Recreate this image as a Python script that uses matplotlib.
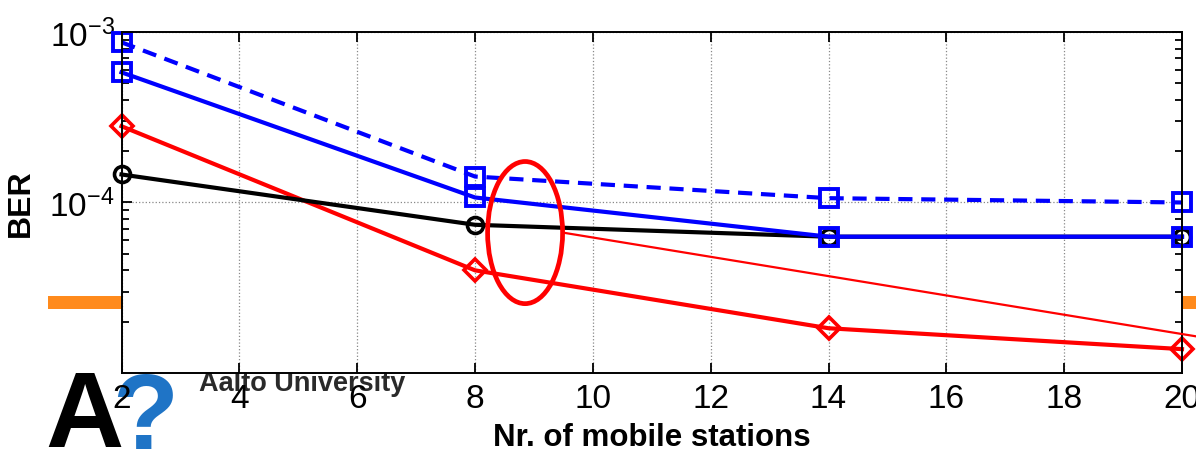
import numpy as np
import matplotlib
matplotlib.use("Agg")
import matplotlib.pyplot as plt
from matplotlib.patches import Ellipse, Rectangle
from matplotlib.ticker import LogLocator, FixedLocator, NullFormatter

plt.rcParams['font.family'] = ['Liberation Sans', 'DejaVu Sans']
plt.rcParams['mathtext.fontset'] = 'custom'
plt.rcParams['mathtext.rm'] = 'Liberation Sans'
plt.rcParams['mathtext.it'] = 'Liberation Sans'

# number of mobile stations
stations = [2, 8, 14, 20]
# BER curves
ber_blue_dashed = [8.7e-4, 1.42e-4, 1.06e-4, 1.0e-4]
ber_blue = [5.8e-4, 1.07e-4, 6.3e-5, 6.3e-5]
ber_black = [1.46e-4, 7.4e-5, 6.3e-5, 6.3e-5]
ber_red = [2.8e-4, 4.0e-5, 1.83e-5, 1.38e-5]
# hand-drawn trend line and highlight around 8-10 stations
trend_x = [9.49, 20.24]
trend_y = [6.66e-5, 1.64e-5]
highlight_center = (8.85, 6.66e-5)

x_ticks = [2, 4, 6, 8, 10, 12, 14, 16, 18, 20]
y_ticks = [1e-4, 1e-3]
y_ticklabels = [r'$10^{-4}$', r'$10^{-3}$']

fig = plt.figure(figsize=(11.96, 4.52), dpi=100)
fig.patch.set_facecolor('white')
ax = fig.add_axes([0.1016, 0.1726, 0.8867, 0.7544])
ax.set_zorder(2)

# orange band from the slide behind the plot
fig.patches.append(Rectangle((0.04, 0.314), 0.96, 0.029, transform=fig.transFigure,
                             facecolor='#ff8a1c', edgecolor='none', zorder=0))

# slide logo
fig.text(0.038, 0.010, 'A', fontsize=78, fontweight='bold', color='black',
         ha='left', va='baseline', zorder=1)
fig.text(0.094, 0.006, '?', fontsize=78, fontweight='bold', color='#1f74c6',
         ha='left', va='baseline', zorder=1)
fig.text(0.166, 0.150, 'Aalto University', fontsize=19.5, fontweight='bold', color='#2a2a2a',
         ha='left', va='center', zorder=1)

ax.set_yscale('log')
ax.set_xlim(2, 20)
ax.set_ylim(1e-5, 1e-3)

ax.plot(stations, ber_red, color='red', lw=3, marker='D', ms=11.5, mfc='none', mew=2.6)
ax.plot(stations, ber_black, color='black', lw=3, marker='o', ms=11.5, mfc='none', mew=2.6)
ax.plot(stations, ber_blue, color='blue', lw=3, marker='s', ms=13, mfc='none', mew=2.8)
ax.plot(stations, ber_blue_dashed, color='blue', lw=3, ls=(0, (3.4, 2.1)), marker='s', ms=13,
        mfc='none', mew=2.8)
for line in ax.lines:
    line.set_clip_on(False)

ax.plot(trend_x, trend_y, color='red', lw=1.6, clip_on=False, zorder=5)

# ellipse drawn in axes fraction so it stays elliptical on the log axis
cx, cy = ax.transAxes.inverted().transform(ax.transData.transform(highlight_center))
ax.add_patch(Ellipse((cx, cy), 75 / 1060.5, 142 / 340.7, transform=ax.transAxes,
                     facecolor='none', edgecolor='red', lw=3.4, zorder=6, clip_on=False))

ax.xaxis.set_major_locator(FixedLocator(x_ticks))
ax.set_xticklabels([str(v) for v in x_ticks])
ax.yaxis.set_major_locator(FixedLocator(y_ticks))
ax.set_yticklabels(y_ticklabels)
ax.yaxis.set_minor_locator(LogLocator(base=10, subs=np.arange(2, 10)))
ax.yaxis.set_minor_formatter(NullFormatter())

ax.tick_params(which='both', direction='in', top=True, right=True, labelsize=24, width=1.3)
ax.tick_params(which='major', length=7, pad=7)
ax.tick_params(which='minor', length=5)
ax.tick_params(axis='y', which='major', pad=5)

ax.grid(True, which='major', color='#888888', ls=':', lw=0.9)
for s in ax.spines.values():
    s.set_linewidth(1.4)

ax.set_xlabel('Nr. of mobile stations', fontsize=22.5, fontweight='bold')
ax.set_ylabel('BER', fontsize=23, fontweight='bold')
ax.xaxis.set_label_coords(0.5, -0.145)
ax.yaxis.set_label_coords(-0.081, 0.5)

fig.savefig('out.png', dpi=100, facecolor='white')
